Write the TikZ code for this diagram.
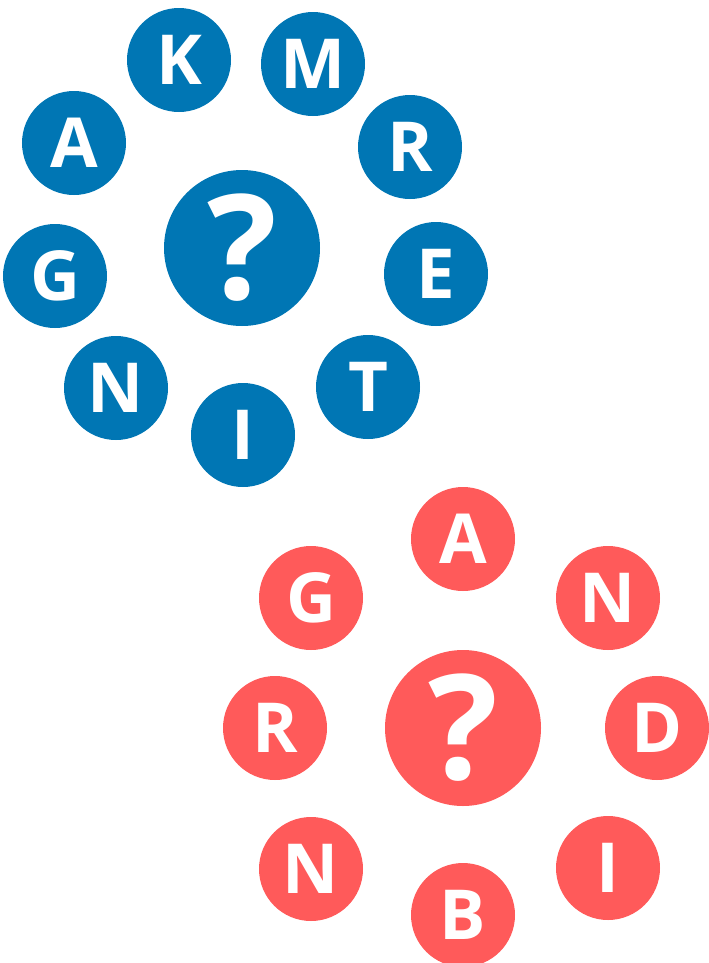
\documentclass[tikz,border=0pt]{standalone}
\usepackage{fontspec}
\setmainfont{Open Sans}
\definecolor{cblue}{HTML}{0076B4}
\definecolor{cred}{HTML}{FF5A5A}
\begin{document}
\begin{tikzpicture}[x=1bp,y=-1bp,
  small/.style={circle,inner sep=0pt,minimum size=104bp,text=white,font=\fontsize{69bp}{69bp}\selectfont\bfseries},
  big/.style={circle,inner sep=0pt,minimum size=156bp,text=white,font=\fontsize{146bp}{146bp}\selectfont\bfseries},
  bl/.style={fill=cblue},
  rd/.style={fill=cred}]
\useasboundingbox (0,0) rectangle (709,963);
% blue cluster
\node[big,bl] (bq) at (242,248) {?};
\node[small,bl] (bK) at (179,60) {K};
\node[small,bl] (bM) at (313,64) {M};
\node[small,bl] (bR) at (410,147) {R};
\node[small,bl] (bE) at (436,274) {E};
\node[small,bl] (bT) at (368,387) {T};
\node[small,bl] (bI) at (243,435) {I};
\node[small,bl] (bN) at (116,388) {N};
\node[small,bl] (bG) at (55,276) {G};
\node[small,bl] (bA) at (74,143) {A};
% red cluster
\node[big,rd] (rq) at (463,728) {?};
\node[small,rd] (rA) at (463,539) {A};
\node[small,rd] (rN1) at (608,598) {N};
\node[small,rd] (rD) at (657,728) {D};
\node[small,rd] (rI) at (608,868) {I};
\node[small,rd] (rB) at (463,915) {B};
\node[small,rd] (rN2) at (311,869) {N};
\node[small,rd] (rR) at (275,728) {R};
\node[small,rd] (rG) at (311,598) {G};
\end{tikzpicture}
\end{document}
